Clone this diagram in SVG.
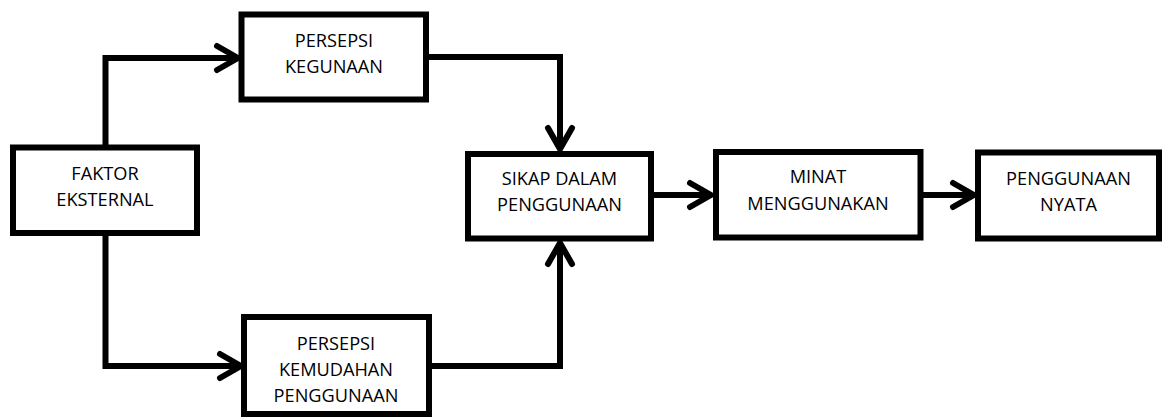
<svg xmlns="http://www.w3.org/2000/svg" width="1162" height="417" viewBox="0 0 1162 417">
<style>
.box{fill:#fff;stroke:#000;stroke-width:6}
.lbl{font-family:"Open Sans","Liberation Sans",sans-serif;font-size:18.2px;fill:#000;text-anchor:middle}
.wire{fill:none;stroke:#000;stroke-width:6;stroke-linejoin:miter}
.head{fill:none;stroke:#000;stroke-width:6;stroke-linecap:round;stroke-linejoin:round}
</style>
<rect width="1162" height="417" fill="#fff"/>
<g id="connectors">
<path class="wire" d="M105.5 147.5 V58 H238"/>
<path class="head" d="M217 46 L238 58 L217 70"/>
<path class="wire" d="M105.5 233 V366 H241"/>
<path class="head" d="M220 354 L241 366 L220 378"/>
<path class="wire" d="M426 57 H560 V149"/>
<path class="head" d="M548 128 L560 149 L572 128"/>
<path class="wire" d="M429 366 H560 V243"/>
<path class="head" d="M548 264 L560 243 L572 264"/>
<path class="wire" d="M651 195 H711"/>
<path class="head" d="M690 183 L711 195 L690 207"/>
<path class="wire" d="M920.5 195 H974"/>
<path class="head" d="M953 183 L974 195 L953 207"/>
</g>
<g id="faktor-eksternal">
<rect class="box" x="13" y="147.5" width="184" height="85.5"/>
<text class="lbl" x="105" y="180">FAKTOR</text>
<text class="lbl" x="105" y="206">EKSTERNAL</text>
</g>
<g id="persepsi-kegunaan">
<rect class="box" x="241.5" y="14.5" width="184.5" height="85"/>
<text class="lbl" x="334" y="47">PERSEPSI</text>
<text class="lbl" x="334" y="73">KEGUNAAN</text>
</g>
<g id="persepsi-kemudahan">
<rect class="box" x="244" y="317" width="185" height="97"/>
<text class="lbl" x="336" y="350">PERSEPSI</text>
<text class="lbl" x="336" y="376">KEMUDAHAN</text>
<text class="lbl" x="336" y="402">PENGGUNAAN</text>
</g>
<g id="sikap">
<rect class="box" x="468" y="154" width="183" height="84.5"/>
<text class="lbl" x="559.5" y="185">SIKAP DALAM</text>
<text class="lbl" x="559.5" y="211">PENGGUNAAN</text>
</g>
<g id="minat">
<rect class="box" x="716" y="152" width="204.5" height="85.5"/>
<text class="lbl" x="818" y="183">MINAT</text>
<text class="lbl" x="818" y="210">MENGGUNAKAN</text>
</g>
<g id="penggunaan-nyata">
<rect class="box" x="978" y="152.5" width="181" height="86"/>
<text class="lbl" x="1068.5" y="185">PENGGUNAAN</text>
<text class="lbl" x="1068.5" y="211">NYATA</text>
</g>
</svg>
